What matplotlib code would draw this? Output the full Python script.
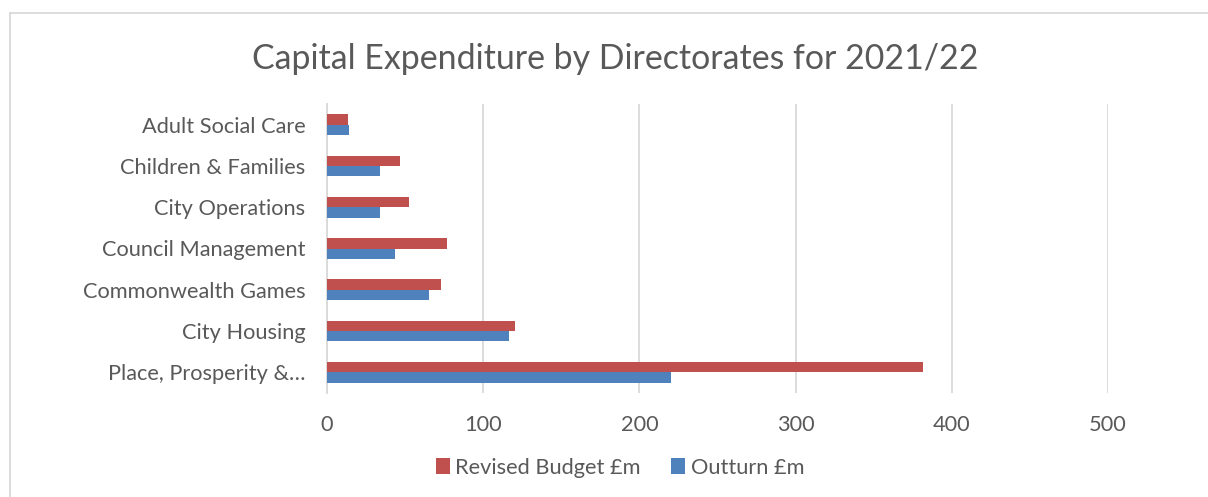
import numpy as np
import matplotlib.pyplot as plt
from matplotlib.lines import Line2D

# ==========================================
# Data
# ==========================================
directorates = ['Adult Social Care', 'Children & Families', 'City Operations',
                'Council Management', 'Commonwealth Games', 'City Housing',
                'Place, Prosperity &\u2026']
revised_budget = [13.5, 46.8, 52.6, 76.7, 72.7, 120.3, 381.5]
outturn = [14.3, 34.0, 34.0, 43.6, 65.1, 116.2, 220.5]
x_ticks = [0, 100, 200, 300, 400, 500]

RED = '#C0504D'
BLUE = '#4F81BD'
TEXT = '#595959'
GRID = '#D9D9D9'

plt.rcParams['font.family'] = ['Lato', 'DejaVu Sans']

fig = plt.figure(figsize=(12.08, 4.97), dpi=100)
ax = fig.add_axes([327 / 1208, 1 - 393 / 497, (1108 - 327) / 1208, (393 - 104) / 497])

pos = np.arange(len(directorates))
bar_h = 0.25
ax.barh(pos - bar_h / 2, revised_budget, height=bar_h, color=RED, label='Revised Budget \u00a3m', zorder=3)
ax.barh(pos + bar_h / 2, outturn, height=bar_h, color=BLUE, label='Outturn \u00a3m', zorder=3)

ax.set_xlim(0, 500)
ax.set_ylim(len(directorates) - 0.5, -0.5)
ax.set_xticks(x_ticks)
ax.set_yticks(pos)
ax.set_yticklabels(directorates)
ax.tick_params(axis='both', length=0, labelsize=15.7, colors=TEXT)
ax.tick_params(axis='y', pad=15.5)
ax.tick_params(axis='x', pad=16)

ax.grid(True, axis='x', color=GRID, linewidth=1.3, zorder=0)
for s in ['top', 'right', 'bottom']:
    ax.spines[s].set_visible(False)
ax.spines['left'].set_color(GRID)
ax.spines['left'].set_linewidth(1.3)

fig.text(615 / 1208, 1 - 59 / 497, 'Capital Expenditure by Directorates for 2021/22',
         ha='center', va='center', fontsize=24.4, color=TEXT)

handles, labels = ax.get_legend_handles_labels()
fig.legend(handles, labels, loc='center', bbox_to_anchor=(620 / 1208, 1 - 468 / 497),
           ncol=2, frameon=False, fontsize=15.7, labelcolor=TEXT,
           handlelength=0.65, handleheight=0.75, handletextpad=0.25, columnspacing=1.4)

# chart border (top and left edges visible)
fig.add_artist(Line2D([10 / 1208, 10 / 1208], [0, 1 - 13 / 497], transform=fig.transFigure,
                      color=GRID, linewidth=1.3))
fig.add_artist(Line2D([10 / 1208, 1], [1 - 13 / 497, 1 - 13 / 497], transform=fig.transFigure,
                      color=GRID, linewidth=1.3))

fig.savefig('out.png', dpi=100)
